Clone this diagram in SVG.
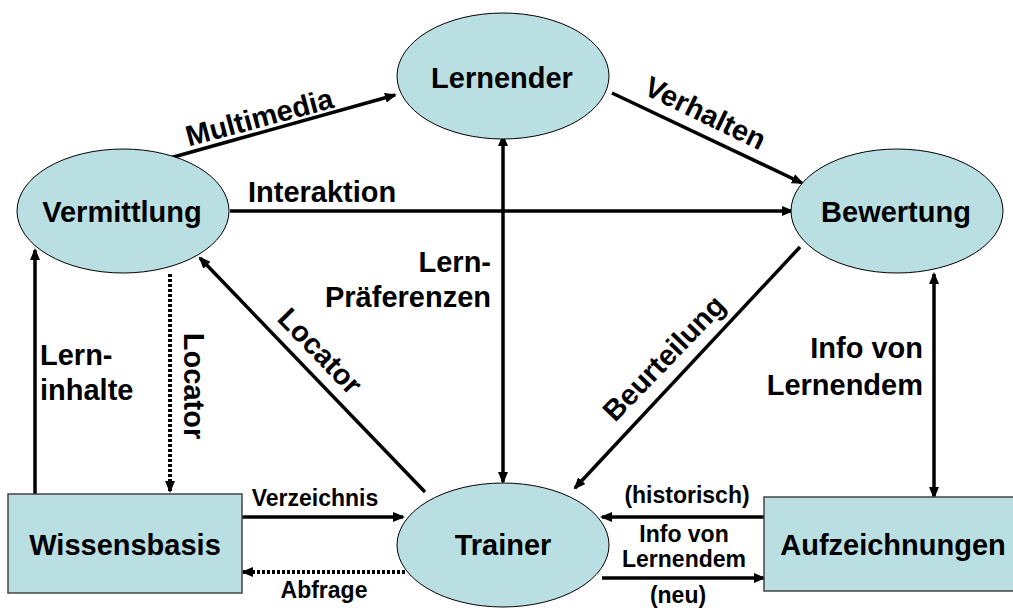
<svg xmlns="http://www.w3.org/2000/svg" width="1013" height="608" viewBox="0 0 1013 608">
<style>
.node{fill:#badfe2;stroke:#000;stroke-width:1}
.box{fill:#badfe2;stroke:#444;stroke-width:1.5}
.t{font-family:"Liberation Sans",Arial,sans-serif;font-weight:bold;fill:#000}
.nl{font-size:29px;text-anchor:middle}
.el{font-size:29px}
.sl{font-size:23px;text-anchor:middle}
.mid{text-anchor:middle}
.end{text-anchor:end}
.c{stroke:#000;stroke-width:3.5;fill:none;marker-end:url(#ah)}
.d{stroke-dasharray:3 2;stroke-width:4}
.bi{marker-start:url(#ah)}
</style>
<defs>
<marker id="ah" viewBox="0 0 12 10" refX="10" refY="5" markerWidth="12" markerHeight="10" markerUnits="userSpaceOnUse" orient="auto-start-reverse"><path d="M0,0L12,5L0,10z" fill="#000"/></marker>
</defs>
<rect width="1013" height="608" fill="#fff"/>
<g id="connectors">
<path class="c" d="M170,158L395,95"/>
<path class="c" d="M612,93L802,183"/>
<path class="c" d="M230,211L792,211"/>
<path class="c bi" d="M503,136L503,482"/>
<path class="c" d="M35,494L35,250"/>
<path class="c d" d="M170,274L170,491"/>
<path class="c" d="M425,492L200,258"/>
<path class="c" d="M800,247L575,488"/>
<path class="c bi" d="M934,274L934,497"/>
<path class="c" d="M242,517L403,517"/>
<path class="c d" d="M405,572L243,572"/>
<path class="c" d="M764,517L602,517"/>
<path class="c" d="M602,578L764,578"/>
</g>
<g id="labels" class="t">
<text class="el mid" transform="translate(262,127) rotate(-15)">Multimedia</text>
<text class="el mid" transform="translate(701,122) rotate(26)">Verhalten</text>
<text class="el" x="248" y="202">Interaktion</text>
<text class="el end" x="491" y="272">Lern-</text>
<text class="el end" x="491" y="307">Präferenzen</text>
<text class="el" x="40" y="365">Lern-</text>
<text class="el" x="40" y="400">inhalte</text>
<text class="el mid" transform="translate(184,386) rotate(90)">Locator</text>
<text class="el mid" transform="translate(313,358) rotate(46)">Locator</text>
<text class="el mid" transform="translate(671,365) rotate(-46)">Beurteilung</text>
<text class="el end" x="923" y="358">Info von</text>
<text class="el end" x="923" y="395">Lernendem</text>
<text class="sl" x="315" y="506">Verzeichnis</text>
<text class="sl" x="324" y="598">Abfrage</text>
<text class="sl" x="687" y="503">(historisch)</text>
<text class="sl" x="684" y="542">Info von</text>
<text class="sl" x="684" y="567">Lernendem</text>
<text class="sl" x="678" y="603">(neu)</text>
</g>
<g id="lernender"><ellipse class="node" cx="503" cy="76" rx="106" ry="63"/><text class="t nl" x="502" y="88">Lernender</text></g>
<g id="vermittlung"><ellipse class="node" cx="123" cy="211" rx="106" ry="62"/><text class="t nl" x="122" y="222">Vermittlung</text></g>
<g id="bewertung"><ellipse class="node" cx="897" cy="211" rx="106" ry="62"/><text class="t nl" x="896" y="222">Bewertung</text></g>
<g id="trainer"><ellipse class="node" cx="503" cy="545" rx="106" ry="62"/><text class="t nl" x="503" y="555">Trainer</text></g>
<g id="wissensbasis"><rect class="box" x="8" y="494" width="234" height="99"/><text class="t nl" x="125" y="555">Wissensbasis</text></g>
<g id="aufzeichnungen"><rect class="box" x="764" y="497" width="260" height="94"/><text class="t nl" x="893" y="555">Aufzeichnungen</text></g>
</svg>
